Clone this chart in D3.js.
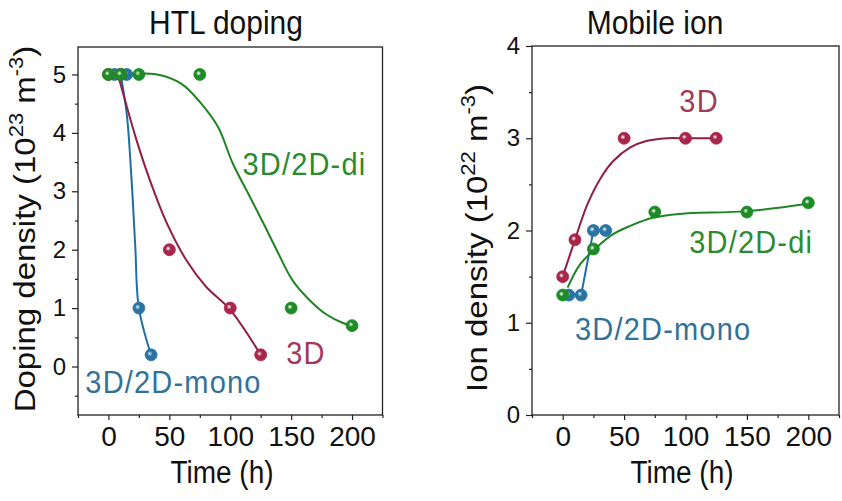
<!DOCTYPE html>
<html>
<head>
<meta charset="utf-8">
<script src="https://cdn.jsdelivr.net/npm/d3@7"></script>
<style>
    body { margin: 0; background: #fff; }
    text { font-family: "Liberation Sans", Arial, sans-serif; }
</style>
</head>
<body>
<script>
// values
const timeTicks = [0, 50, 100, 150, 200];
const timeMinor = [-25, 25, 75, 125, 175, 225];

// HTL doping (10^23 m^-3)
const dopMonoT = [5, 10, 15, 25, 35];
const dopMonoV = [5, 5, 5, 1.0, 0.2];
const dop3dT = [0, 10, 50, 100, 125];
const dop3dV = [5, 5, 2.0, 1.0, 0.2];
const dopDiT = [0, 10, 25, 75, 150, 200];
const dopDiV = [5, 5, 5, 5, 1.0, 0.7];

// fitted curves
const dopMonoFitT = [10, 15, 19, 22, 25, 35];
const dopMonoFitV = [5, 4.33, 3.19, 2.06, 1.0, 0.2];
const dop3dFitT = [7, 14, 23, 34, 48, 64, 80, 100, 125];
const dop3dFitV = [5.05, 4.53, 3.88, 3.19, 2.45, 1.82, 1.37, 0.97, 0.2];
const dopDiFitT = [10, 40, 60, 75, 90, 102, 116, 127, 138, 151, 165, 179, 192, 200];
const dopDiFitV = [5, 5, 4.84, 4.53, 4.1, 3.48, 2.91, 2.46, 2.0, 1.48, 1.14, 0.89, 0.75, 0.7];

// Mobile ion (10^22 m^-3)
const ionMonoT = [5, 15, 25, 35];
const ionMonoV = [1.3, 1.3, 2.0, 2.0];
const ion3dT = [0, 10, 50, 100, 125];
const ion3dV = [1.5, 1.9, 3.0, 3.0, 3.0];
const ionDiT = [0, 25, 75, 150, 200];
const ionDiV = [1.3, 1.8, 2.2, 2.2, 2.3];

const ion3dFitT = [0, 10, 20, 31, 41, 55, 68, 85, 100, 125];
const ion3dFitV = [1.5, 1.9, 2.28, 2.57, 2.75, 2.9, 2.97, 3.0, 3.0, 3.0];
const ionDiFitT = [4, 14, 28, 41, 55, 74, 95, 150, 200];
const ionDiFitV = [1.38, 1.63, 1.82, 1.96, 2.05, 2.14, 2.18, 2.21, 2.29];

const colors = {
    mono: { dot: "#2a74a3", line: "#1f6ea8", text: "#31729a" },
    d3: { dot: "#a8264a", line: "#8f1f43", text: "#a13a58" },
    di: { dot: "#1e8c26", line: "#1f8424", text: "#2a8a2e" }
};

const svg = d3.select("body")
    .append("svg")
    .attr("width", 842)
    .attr("height", 501)

const defs = svg.append("defs");
Object.keys(colors).forEach(k => {
    const g = defs.append("radialGradient")
        .attr("id", "grad-" + k)
        .attr("cx", "40%")
        .attr("cy", "40%")
        .attr("r", "60%")
    g.append("stop").attr("offset", "0%").attr("stop-color", "#ffffff").attr("stop-opacity", 0.75)
    g.append("stop").attr("offset", "35%").attr("stop-color", colors[k].dot)
    g.append("stop").attr("offset", "100%").attr("stop-color", colors[k].dot)
})

function zip(t, v) {
    return t.map((d, i) => [d, v[i]]);
}

function drawPanel(cfg) {
    const x = d3.scaleLinear().domain([-25, 225]).range(cfg.xRange);
    const y = d3.scaleLinear().domain(cfg.yDomain).range(cfg.yRange);
    const g = svg.append("g");

    // frame
    g.append("rect")
        .attr("x", cfg.xRange[0])
        .attr("y", cfg.yRange[1])
        .attr("width", cfg.xRange[1] - cfg.xRange[0])
        .attr("height", cfg.yRange[0] - cfg.yRange[1])
        .attr("fill", "none")
        .attr("stroke", "#222")
        .attr("stroke-width", 1.3)

    // x axis
    const xAxis = g.append("g")
        .attr("transform", `translate(0,${cfg.yRange[0]})`)
        .call(d3.axisBottom(x).tickValues(timeTicks).tickFormat(d3.format("d")).tickSize(5).tickSizeOuter(0).tickPadding(6))
    xAxis.select(".domain").remove();
    xAxis.selectAll("text").attr("font-size", 28).attr("fill", "#111");
    g.append("g")
        .attr("transform", `translate(0,${cfg.yRange[0]})`)
        .call(d3.axisBottom(x).tickValues(timeMinor).tickSize(3).tickFormat(""))
        .select(".domain").remove();

    // y axis
    const yAxis = g.append("g")
        .attr("transform", `translate(${cfg.xRange[0]},0)`)
        .call(d3.axisLeft(y).tickValues(cfg.yTicks).tickFormat(d3.format("d")).tickSize(6).tickSizeOuter(0).tickPadding(6))
    yAxis.select(".domain").remove();
    yAxis.selectAll("text").attr("font-size", 24).attr("fill", "#111");
    g.append("g")
        .attr("transform", `translate(${cfg.xRange[0]},0)`)
        .call(d3.axisLeft(y).tickValues(cfg.yMinor).tickSize(3).tickFormat(""))
        .select(".domain").remove();

    g.selectAll(".tick line").attr("stroke", "#222").attr("stroke-width", 1.2);

    // lines
    cfg.lines.forEach(l => {
        g.append("path")
            .datum(l.pts)
            .attr("fill", "none")
            .attr("stroke", colors[l.key].line)
            .attr("stroke-width", 2)
            .attr("d", d3.line().x(d => x(d[0])).y(d => y(d[1])).curve(l.curve))
    })

    // dots
    cfg.dots.forEach(s => {
        g.selectAll(null)
            .data(s.pts)
            .enter()
            .append("circle")
            .attr("cx", d => x(d[0]))
            .attr("cy", d => y(d[1]))
            .attr("r", 6)
            .attr("fill", `url(#grad-${s.key})`)
            .attr("stroke", colors[s.key].dot)
            .attr("stroke-width", 0.8)
    })

    // series labels
    cfg.labels.forEach(l => {
        g.append("text")
            .attr("transform", `translate(${x(l.t)},${y(l.v)}) scale(1,1.1)`)
            .attr("font-size", 29)
            .attr("letter-spacing", 1.2)
            .attr("fill", colors[l.key].text)
            .text(l.text)
    })

    // title
    g.append("text")
        .attr("transform", `translate(${cfg.titleX},34) scale(1,1.1)`)
        .attr("text-anchor", "middle")
        .attr("font-size", 30)
        .attr("fill", "#111")
        .text(cfg.title)

    g.append("text")
        .attr("transform", `translate(${cfg.xLabelX},483) scale(1,1.1)`)
        .attr("text-anchor", "middle")
        .attr("font-size", 28)
        .attr("fill", "#111")
        .text("Time (h)")

    const yl = g.append("text")
        .attr("transform", `translate(${cfg.yLabelX},${cfg.yLabelY}) rotate(-90) scale(1.1,1)`)
        .attr("text-anchor", "middle")
        .attr("font-size", 30)
        .attr("fill", "#111")
    yl.append("tspan").text(cfg.yLabel + " (10");
    yl.append("tspan").attr("font-size", 20).attr("dy", -12).text(cfg.yExp);
    yl.append("tspan").attr("dy", 12).text(" m");
    yl.append("tspan").attr("font-size", 20).attr("dy", -12).text("-3");
    yl.append("tspan").attr("dy", 12).text(")");
}

drawPanel({
    xRange: [78, 382.5],
    yDomain: [-0.83, 5.47],
    yRange: [415, 47],
    yTicks: [0, 1, 2, 3, 4, 5],
    yMinor: [-0.5, 0.5, 1.5, 2.5, 3.5, 4.5],
    title: "HTL doping",
    titleX: 226,
    xLabelX: 222,
    yLabel: "Doping density",
    yExp: "23",
    yLabelX: 35,
    yLabelY: 229,
    lines: [
        { key: "mono", pts: zip(dopMonoFitT, dopMonoFitV), curve: d3.curveCatmullRom },
        { key: "d3", pts: zip(dop3dFitT, dop3dFitV), curve: d3.curveCatmullRom },
        { key: "di", pts: zip(dopDiFitT, dopDiFitV), curve: d3.curveCatmullRom }
    ],
    dots: [
        { key: "mono", pts: zip(dopMonoT, dopMonoV) },
        { key: "d3", pts: zip(dop3dT, dop3dV) },
        { key: "di", pts: zip(dopDiT, dopDiV) }
    ],
    labels: [
        { key: "di", text: "3D/2D-di", t: 110, v: 3.28 },
        { key: "d3", text: "3D", t: 146, v: 0.04 },
        { key: "mono", text: "3D/2D-mono", t: -19, v: -0.45 }
    ]
})

drawPanel({
    xRange: [532, 839],
    yDomain: [0, 4],
    yRange: [415, 46],
    yTicks: [0, 1, 2, 3, 4],
    yMinor: [0.5, 1.5, 2.5, 3.5],
    title: "Mobile ion",
    titleX: 655,
    xLabelX: 682,
    yLabel: "Ion density",
    yExp: "22",
    yLabelX: 487,
    yLabelY: 238,
    lines: [
        { key: "mono", pts: zip(ionMonoT, ionMonoV), curve: d3.curveLinear },
        { key: "d3", pts: zip(ion3dFitT, ion3dFitV), curve: d3.curveCatmullRom },
        { key: "di", pts: zip(ionDiFitT, ionDiFitV), curve: d3.curveCatmullRom }
    ],
    dots: [
        { key: "mono", pts: zip(ionMonoT, ionMonoV) },
        { key: "d3", pts: zip(ion3dT, ion3dV) },
        { key: "di", pts: zip(ionDiT, ionDiV) }
    ],
    labels: [
        { key: "d3", text: "3D", t: 95, v: 3.28 },
        { key: "di", text: "3D/2D-di", t: 103, v: 1.76 },
        { key: "mono", text: "3D/2D-mono", t: 10, v: 0.81 }
    ]
})
</script>
</body>
</html>
